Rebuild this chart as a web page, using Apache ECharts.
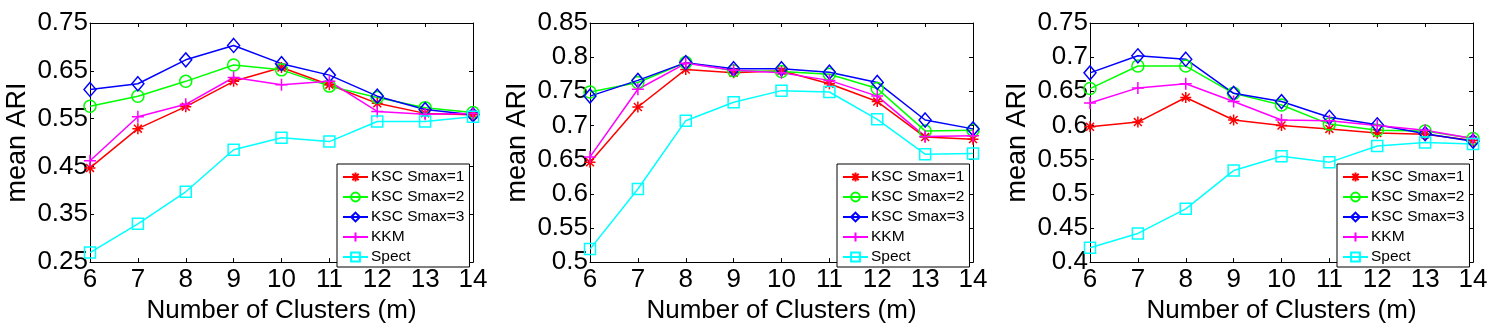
<!DOCTYPE html>
<html>
<head>
    <meta charset="utf-8">
    <title>mean ARI</title>
    <script src="https://cdn.jsdelivr.net/npm/echarts@6/dist/echarts.min.js"></script>
    <style>
        html, body { margin: 0; padding: 0; background: #fff; }
        #chart1 { width: 1500px; height: 329px; }
    </style>
</head>
<body>
<div id="chart1"></div>
<script>
    // x axis: number of clusters
    var clusters = [6, 7, 8, 9, 10, 11, 12, 13, 14];
    var names = ['KSC Smax=1', 'KSC Smax=2', 'KSC Smax=3', 'KKM', 'Spect'];

    // panel 1
    var a_ksc1 = [0.447, 0.529, 0.575, 0.628, 0.657, 0.621, 0.582, 0.561, 0.558];
    var a_ksc2 = [0.576, 0.597, 0.628, 0.662, 0.652, 0.618, 0.594, 0.573, 0.563];
    var a_ksc3 = [0.611, 0.623, 0.673, 0.703, 0.665, 0.641, 0.597, 0.569, 0.558];
    var a_kkm = [0.462, 0.554, 0.580, 0.636, 0.621, 0.628, 0.565, 0.559, 0.561];
    var a_spect = [0.270, 0.330, 0.397, 0.485, 0.510, 0.502, 0.544, 0.544, 0.554];

    // panel 2
    var b_ksc1 = [0.646, 0.727, 0.782, 0.777, 0.780, 0.761, 0.735, 0.683, 0.680];
    var b_ksc2 = [0.749, 0.763, 0.792, 0.780, 0.779, 0.775, 0.754, 0.692, 0.693];
    var b_ksc3 = [0.743, 0.766, 0.792, 0.783, 0.783, 0.778, 0.763, 0.708, 0.695];
    var b_kkm = [0.654, 0.753, 0.791, 0.781, 0.777, 0.766, 0.743, 0.684, 0.685];
    var b_spect = [0.519, 0.607, 0.707, 0.734, 0.751, 0.749, 0.709, 0.658, 0.659];

    // panel 3
    var c_ksc1 = [0.598, 0.605, 0.641, 0.608, 0.600, 0.595, 0.589, 0.587, 0.578];
    var c_ksc2 = [0.654, 0.687, 0.687, 0.647, 0.630, 0.602, 0.593, 0.592, 0.581];
    var c_ksc3 = [0.677, 0.702, 0.697, 0.647, 0.635, 0.612, 0.601, 0.588, 0.577];
    var c_kkm = [0.633, 0.655, 0.661, 0.635, 0.608, 0.607, 0.600, 0.593, 0.581];
    var c_spect = [0.421, 0.442, 0.478, 0.534, 0.555, 0.546, 0.570, 0.575, 0.573];

    // y ranges / tick steps per panel
    var yMins = [0.25, 0.5, 0.4];
    var yMaxs = [0.75, 0.85, 0.75];
    var ySteps = [0.1, 0.05, 0.05];

    var panels = [
        [a_ksc1, a_ksc2, a_ksc3, a_kkm, a_spect],
        [b_ksc1, b_ksc2, b_ksc3, b_kkm, b_spect],
        [c_ksc1, c_ksc2, c_ksc3, c_kkm, c_spect]
    ];

    var colors = ['#ff0000', '#00ff00', '#0000ff', '#ff00ff', '#00ffff'];
    var symbols = [
        'path://M0,-5L0,5M-5,0L5,0M-3.6,-3.6L3.6,3.6M-3.6,3.6L3.6,-3.6',
        'circle',
        'diamond',
        'path://M0,-5L0,5M-5,0L5,0',
        'rect'
    ];
    var sizes = [11, 12, [12, 14], 12, 11];

    var font = 'Liberation Sans, Arial, sans-serif';
    var plotLeft = 90, plotW = 383, plotTop = 23, plotH = 244;

    var grids = [], xAxes = [], yAxes = [], series = [], legends = [];

    function fmt(v) {
        return String(+v.toFixed(2));
    }

    for (var p = 0; p < 3; p++) {
        var off = p * 500;
        grids.push({left: off + plotLeft, top: plotTop, width: plotW, height: plotH});

        var axisLine = {show: true, lineStyle: {color: '#000', width: 1}};
        var tick = {show: true, inside: true, length: 4, lineStyle: {color: '#000'}};

        xAxes.push({
            type: 'value', gridIndex: p, min: 6, max: 14, interval: 1,
            axisLine: axisLine, axisTick: tick, splitLine: {show: false},
            axisLabel: {color: '#000', fontSize: 26, fontFamily: font, margin: 5},
            name: 'Number of Clusters (m)', nameLocation: 'middle', nameGap: 31,
            nameTextStyle: {color: '#000', fontSize: 26, fontFamily: font}
        });
        xAxes.push({
            type: 'value', gridIndex: p, min: 6, max: 14, interval: 1, position: 'top',
            axisLine: axisLine, axisTick: tick, splitLine: {show: false},
            axisLabel: {show: false}
        });

        yAxes.push({
            type: 'value', gridIndex: p, min: yMins[p], max: yMaxs[p], interval: ySteps[p],
            axisLine: axisLine, axisTick: tick, splitLine: {show: false},
            axisLabel: {color: '#000', fontSize: 26, fontFamily: font, margin: 2, formatter: fmt},
            name: 'mean ARI', nameLocation: 'middle', nameGap: 59,
            nameTextStyle: {color: '#000', fontSize: 27, fontFamily: font}
        });
        yAxes.push({
            type: 'value', gridIndex: p, min: yMins[p], max: yMaxs[p], interval: ySteps[p], position: 'right',
            axisLine: axisLine, axisTick: tick, splitLine: {show: false},
            axisLabel: {show: false}
        });

        for (var s = 0; s < 5; s++) {
            var vals = panels[p][s];
            series.push({
                name: names[s],
                type: 'line',
                xAxisIndex: p * 2,
                yAxisIndex: p * 2,
                data: clusters.map(function (c, i) { return [c, vals[i]]; }),
                symbol: symbols[s],
                symbolSize: sizes[s],
                symbolKeepAspect: true,
                showAllSymbol: true,
                lineStyle: {color: colors[s], width: 1.5},
                itemStyle: {color: 'transparent', borderColor: colors[s], borderWidth: 1.5},
                emphasis: {disabled: true},
                animation: false
            });
        }

        legends.push({
            data: names,
            orient: 'vertical',
            left: off + 337,
            top: 164,
            itemWidth: 25,
            itemHeight: 11,
            itemGap: 4,
            padding: [5, 5, 2, 5],
            backgroundColor: '#fff',
            borderColor: '#000',
            borderWidth: 1,
            borderRadius: 0,
            selectedMode: false,
            textStyle: {color: '#000', fontSize: 15.5, fontFamily: font, padding: [0, 0, 0, -2]}
        });
    }

    var chart = echarts.init(document.getElementById('chart1'));
    chart.setOption({
        animation: false,
        grid: grids,
        xAxis: xAxes,
        yAxis: yAxes,
        legend: legends,
        series: series
    });
</script>
</body>
</html>
